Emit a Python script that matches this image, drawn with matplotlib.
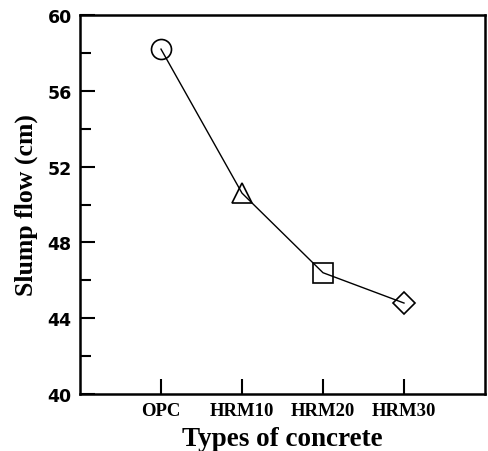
import matplotlib
matplotlib.use("Agg")
import matplotlib.pyplot as plt
from matplotlib.ticker import MultipleLocator

# data
concrete_types = ["OPC", "HRM10", "HRM20", "HRM30"]
slump_flow = [58.2, 50.6, 46.4, 44.8]
markers = ["o", "^", "s", "D"]
marker_sizes = [14.4, 14.4, 13.7, 11.2]

x_pos = list(range(1, len(concrete_types) + 1))

fig = plt.figure(figsize=(4.89, 4.52), dpi=100)
ax = fig.add_axes([0.1636, 0.1261, 0.9918 - 0.1636, 0.9646 - 0.1261])

ax.plot(x_pos, slump_flow, color="black", linewidth=1.0, zorder=2)
for x, y, m, ms in zip(x_pos, slump_flow, markers, marker_sizes):
    ax.plot(x, y, marker=m, markersize=ms, markerfacecolor="none",
            markeredgecolor="black", markeredgewidth=1.2, linestyle="none", zorder=3)

ax.set_xlim(0, 5)
ax.set_ylim(40, 60)
ax.set_xticks(x_pos)
ax.set_xticklabels(concrete_types, family="Liberation Serif", fontweight="bold", fontsize=13.5)
ax.yaxis.set_major_locator(MultipleLocator(4))
ax.yaxis.set_minor_locator(MultipleLocator(2))
for lbl in ax.get_yticklabels():
    lbl.set_family("DejaVu Sans")
    lbl.set_fontweight("bold")
    lbl.set_fontsize(12.5)

ax.tick_params(axis="both", which="major", direction="in", length=11, width=1.5, pad=6)
ax.tick_params(axis="y", which="minor", direction="in", length=8, width=1.5)
ax.tick_params(top=False, right=False)
for s in ax.spines.values():
    s.set_linewidth(1.8)

ax.set_xlabel("Types of concrete", family="Liberation Serif", fontweight="bold", fontsize=19.5, labelpad=5)
ax.set_ylabel("Slump flow (cm)", family="Liberation Serif", fontweight="bold", fontsize=18.5, labelpad=7)

fig.savefig("out.png", dpi=100)
